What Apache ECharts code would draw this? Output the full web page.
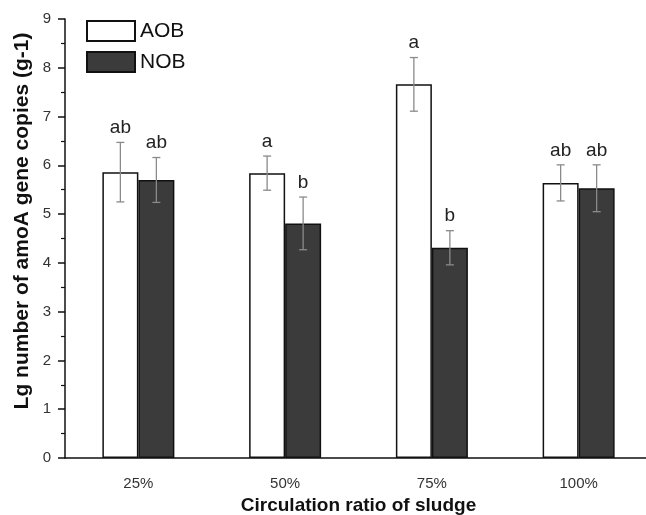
<!DOCTYPE html>
<html>
<head>
<meta charset="utf-8">
<script src="https://cdn.jsdelivr.net/npm/echarts@6/dist/echarts.min.js"></script>
<style>
  html, body { margin: 0; padding: 0; background: #fff; }
  #chart { width: 646px; height: 515px; }
</style>
</head>
<body>
<div id="chart"></div>
<script>
// data
var categories = ['25%', '50%', '75%', '100%'];
var aobMean = [5.86, 5.84, 7.66, 5.64];
var aobErr = [0.61, 0.35, 0.55, 0.37];
var aobLetter = ['ab', 'a', 'a', 'ab'];
var nobMean = [5.70, 4.81, 4.31, 5.53];
var nobErr = [0.46, 0.54, 0.35, 0.48];
var nobLetter = ['ab', 'b', 'b', 'ab'];

var FONT = '"Liberation Sans", Arial, sans-serif';
var BAR_W = 36;

var chart = echarts.init(document.getElementById('chart'));

function errRows(mean, err, letters) {
  return mean.map(function (m, i) { return [i, m, err[i], letters[i]]; });
}

// error bar + significance letter, shifted onto the bar of the series
function errRender(shift) {
  return function (params, api) {
    var i = api.value(0), m = api.value(1), e = api.value(2);
    var c = api.coord([i, m]);
    var x = c[0] + shift;
    var top = api.coord([i, m + e])[1];
    var bot = api.coord([i, m - e])[1];
    var cap = 4;
    var st = { stroke: '#8a8a8a', lineWidth: 1.3 };
    return {
      type: 'group',
      children: [
        { type: 'line', shape: { x1: x, y1: top, x2: x, y2: bot }, style: st },
        { type: 'line', shape: { x1: x - cap, y1: top, x2: x + cap, y2: top }, style: st },
        { type: 'line', shape: { x1: x - cap, y1: bot, x2: x + cap, y2: bot }, style: st },
        {
          type: 'text',
          style: {
            text: api.value(3), x: x, y: top - 5,
            textAlign: 'center', textVerticalAlign: 'bottom',
            fontSize: 19, fontFamily: FONT, fill: '#222'
          }
        }
      ]
    };
  };
}

var option = {
  animation: false,
  grid: { left: 65, top: 19, width: 587, height: 439, outerBoundsMode: 'none', containLabel: false },
  legend: {
    orient: 'vertical',
    left: 86, top: 20,
    padding: 0,
    icon: 'rect',
    itemWidth: 48, itemHeight: 20, itemGap: 9,
    textStyle: { fontSize: 21, fontFamily: FONT, color: '#111' },
    data: ['AOB', 'NOB']
  },
  graphic: [{
    type: 'text',
    x: 22, y: 221,
    rotation: Math.PI / 2,
    style: {
      text: 'Lg number of amoA gene copies (g-1)',
      textAlign: 'center', textVerticalAlign: 'middle',
      fontSize: 21, fontWeight: 'bold', fontFamily: FONT, fill: '#111'
    }
  }],
  xAxis: [{
    type: 'category',
    data: categories,
    position: 'bottom',
    name: 'Circulation ratio of sludge',
    nameLocation: 'middle',
    nameGap: 34,
    nameTextStyle: { fontSize: 19, fontWeight: 'bold', fontFamily: FONT, color: '#111' },
    axisLine: { lineStyle: { color: '#111', width: 1.5 } },
    axisTick: { alignWithLabel: true, length: 4, lineStyle: { color: '#111', width: 1.5 } },
    axisLabel: { fontSize: 15, fontFamily: FONT, color: '#333', margin: 18 }
  }, {
    type: 'category',
    data: categories,
    position: 'bottom',
    axisLine: { show: false },
    axisTick: { length: 4, lineStyle: { color: '#111', width: 1.5 } },
    axisLabel: { show: false }
  }],
  yAxis: {
    type: 'value',
    min: 0, max: 9, interval: 1,
    axisLine: { show: true, lineStyle: { color: '#111', width: 1.5 } },
    axisTick: { show: true, length: 7, lineStyle: { color: '#111', width: 1.5 } },
    minorTick: { show: true, splitNumber: 2, length: 4, lineStyle: { color: '#111', width: 1.2 } },
    splitLine: { show: false },
    axisLabel: { fontSize: 15, fontFamily: FONT, color: '#333', margin: 14 }
  },
  series: [
    {
      name: 'AOB', type: 'bar', data: aobMean,
      barWidth: BAR_W, barGap: '0%',
      itemStyle: { color: '#ffffff', borderColor: '#111', borderWidth: 1.5 }
    },
    {
      name: 'NOB', type: 'bar', data: nobMean,
      barWidth: BAR_W, barGap: '0%',
      itemStyle: { color: '#3b3b3b', borderColor: '#111', borderWidth: 1.5 }
    },
    {
      type: 'custom', renderItem: errRender(-BAR_W / 2),
      data: errRows(aobMean, aobErr, aobLetter), z: 10
    },
    {
      type: 'custom', renderItem: errRender(BAR_W / 2),
      data: errRows(nobMean, nobErr, nobLetter), z: 10
    }
  ]
};

chart.setOption(option);
</script>
</body>
</html>
